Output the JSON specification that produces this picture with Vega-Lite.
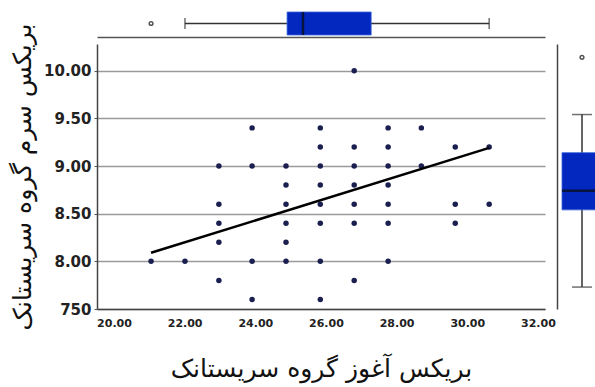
{
  "$schema": "https://vega.github.io/schema/vega-lite/v6.json",
  "background": "white",
  "padding": {"left": 10, "top": 0, "right": 0, "bottom": 5},
  "config": {"view": {"stroke": null}, "font": "DejaVu Sans"},
  "datasets": {
    "pts": [
      {"x": 21.05, "y": 8.0},
      {"x": 22.01, "y": 8.0},
      {"x": 22.97, "y": 9.0}, {"x": 22.97, "y": 8.6}, {"x": 22.97, "y": 8.4}, {"x": 22.97, "y": 8.2}, {"x": 22.97, "y": 7.8},
      {"x": 23.91, "y": 9.4}, {"x": 23.91, "y": 9.0}, {"x": 23.91, "y": 8.0}, {"x": 23.91, "y": 7.6},
      {"x": 24.87, "y": 9.0}, {"x": 24.87, "y": 8.8}, {"x": 24.87, "y": 8.6}, {"x": 24.87, "y": 8.4}, {"x": 24.87, "y": 8.2}, {"x": 24.87, "y": 8.0},
      {"x": 25.84, "y": 9.4}, {"x": 25.84, "y": 9.2}, {"x": 25.84, "y": 9.0}, {"x": 25.84, "y": 8.8}, {"x": 25.84, "y": 8.6}, {"x": 25.84, "y": 8.4}, {"x": 25.84, "y": 8.0}, {"x": 25.84, "y": 7.6},
      {"x": 26.8, "y": 10.0}, {"x": 26.8, "y": 9.2}, {"x": 26.8, "y": 9.0}, {"x": 26.8, "y": 8.8}, {"x": 26.8, "y": 8.6}, {"x": 26.8, "y": 8.4}, {"x": 26.8, "y": 7.8},
      {"x": 27.76, "y": 9.4}, {"x": 27.76, "y": 9.2}, {"x": 27.76, "y": 9.0}, {"x": 27.76, "y": 8.8}, {"x": 27.76, "y": 8.6}, {"x": 27.76, "y": 8.4}, {"x": 27.76, "y": 8.0},
      {"x": 28.7, "y": 9.4}, {"x": 28.7, "y": 9.0},
      {"x": 29.66, "y": 9.2}, {"x": 29.66, "y": 8.6}, {"x": 29.66, "y": 8.4},
      {"x": 30.62, "y": 9.2}, {"x": 30.62, "y": 8.6}
    ],
    "fit": [{"x": 21.05, "y": 8.09}, {"x": 30.62, "y": 9.19}],
    "xbox": [{"var": "x", "lower": 22.01, "q1": 24.9, "median": 25.35, "q3": 27.28, "upper": 30.62}],
    "xout": [{"var": "x", "value": 21.05}],
    "ybox": [{"var": "y", "lower": 7.73, "q1": 8.54, "median": 8.74, "q3": 9.14, "upper": 9.54}],
    "yout": [{"var": "y", "value": 10.14}]
  },
  "columns": 2,
  "align": "each",
  "bounds": "flush",
  "spacing": {"row": 7, "column": 12},
  "concat": [
    {
      "width": 448,
      "height": 37,
      "encoding": {"y": {"field": "var", "type": "nominal", "axis": null}},
      "layer": [
        {
          "data": {"name": "xbox"},
          "mark": {"type": "rule", "color": "#333333", "strokeWidth": 1.5, "yOffset": 5},
          "encoding": {
            "x": {"field": "lower", "type": "quantitative", "scale": {"domain": [19.52, 32.2], "nice": false, "zero": false},
                  "axis": {"title": null, "labels": false, "ticks": false, "grid": false, "domainColor": "#555555", "domainWidth": 1.5}},
            "x2": {"field": "upper"}
          }
        },
        {
          "data": {"name": "xbox"},
          "mark": {"type": "tick", "color": "#333333", "thickness": 1.5, "size": 11, "yOffset": 5},
          "encoding": {"x": {"field": "lower", "type": "quantitative"}}
        },
        {
          "data": {"name": "xbox"},
          "mark": {"type": "tick", "color": "#333333", "thickness": 1.5, "size": 11, "yOffset": 5},
          "encoding": {"x": {"field": "upper", "type": "quantitative"}}
        },
        {
          "data": {"name": "xbox"},
          "mark": {"type": "bar", "color": "#0228C0", "size": 23, "yOffset": 5, "stroke": "#3a62d8", "strokeWidth": 0.8},
          "encoding": {"x": {"field": "q1", "type": "quantitative"}, "x2": {"field": "q3"}}
        },
        {
          "data": {"name": "xbox"},
          "mark": {"type": "tick", "color": "#0a0a0a", "thickness": 2.5, "size": 23, "yOffset": 5},
          "encoding": {"x": {"field": "median", "type": "quantitative"}}
        },
        {
          "data": {"name": "xout"},
          "mark": {"type": "point", "shape": "circle", "filled": false, "color": "#111111", "strokeWidth": 1.5, "size": 14, "yOffset": 5},
          "encoding": {"x": {"field": "value", "type": "quantitative"}}
        }
      ]
    },
    {
      "width": 50,
      "height": 37,
      "data": {"values": []},
      "mark": "point"
    },
    {
      "width": 448,
      "height": 265,
      "encoding": {
        "x": {"field": "x", "type": "quantitative", "scale": {"domain": [19.52, 32.2], "nice": false, "zero": false},
              "axis": {"title": "بریکس آغوز گروه سریستانک", "values": [20, 22, 24, 26, 28, 30, 32], "format": ".2f",
                       "ticks": false, "grid": false, "labelFontSize": 11, "labelFontWeight": "bold", "labelColor": "#222222",
                       "labelPadding": 8, "domainColor": "#444444", "domainWidth": 1.5,
                       "titleFontSize": 25, "titleFontWeight": "normal", "titleColor": "#111111", "titlePadding": 28}},
        "y": {"field": "y", "type": "quantitative", "scale": {"domain": [7.5, 10.28], "nice": false, "zero": false},
              "axis": {"title": "بریکس سرم گروه سریستانک", "values": [7.5, 8, 8.5, 9, 9.5, 10],
                       "labelExpr": "datum.value == 7.5 ? '750' : format(datum.value, '.2f')",
                       "grid": true, "gridColor": "#9a9a9a", "gridWidth": 1.5, "tickSize": 3, "tickColor": "#555555",
                       "labelFontSize": 15, "labelFontWeight": "bold", "labelColor": "#222222", "labelPadding": 3,
                       "domainColor": "#444444", "domainWidth": 1.5,
                       "titleFontSize": 25, "titleFontWeight": "normal", "titleColor": "#111111", "titlePadding": 8}}
      },
      "layer": [
        {
          "data": {"name": "pts"},
          "mark": {"type": "circle", "color": "#1b1f4f", "size": 30, "opacity": 1}
        },
        {
          "data": {"name": "fit"},
          "mark": {"type": "line", "color": "#000000", "strokeWidth": 2.5}
        }
      ]
    },
    {
      "width": 50,
      "height": 265,
      "encoding": {"x": {"field": "var", "type": "nominal", "axis": null}},
      "layer": [
        {
          "data": {"name": "ybox"},
          "mark": {"type": "rule", "color": "#333333", "strokeWidth": 1.5},
          "encoding": {
            "y": {"field": "lower", "type": "quantitative", "scale": {"domain": [7.5, 10.28], "nice": false, "zero": false},
                  "axis": {"title": null, "labels": false, "ticks": false, "grid": false, "domainColor": "#444444", "domainWidth": 1.5}},
            "y2": {"field": "upper"}
          }
        },
        {
          "data": {"name": "ybox"},
          "mark": {"type": "tick", "color": "#333333", "thickness": 1.5, "size": 20},
          "encoding": {"y": {"field": "lower", "type": "quantitative"}}
        },
        {
          "data": {"name": "ybox"},
          "mark": {"type": "tick", "color": "#333333", "thickness": 1.5, "size": 20},
          "encoding": {"y": {"field": "upper", "type": "quantitative"}}
        },
        {
          "data": {"name": "ybox"},
          "mark": {"type": "bar", "color": "#0228C0", "size": 40, "stroke": "#3a62d8", "strokeWidth": 0.8},
          "encoding": {"y": {"field": "q1", "type": "quantitative"}, "y2": {"field": "q3"}}
        },
        {
          "data": {"name": "ybox"},
          "mark": {"type": "tick", "color": "#0a0a0a", "thickness": 2.5, "size": 40},
          "encoding": {"y": {"field": "median", "type": "quantitative"}}
        },
        {
          "data": {"name": "yout"},
          "mark": {"type": "point", "shape": "circle", "filled": false, "color": "#111111", "strokeWidth": 1.5, "size": 14},
          "encoding": {"y": {"field": "value", "type": "quantitative"}}
        }
      ]
    }
  ]
}
